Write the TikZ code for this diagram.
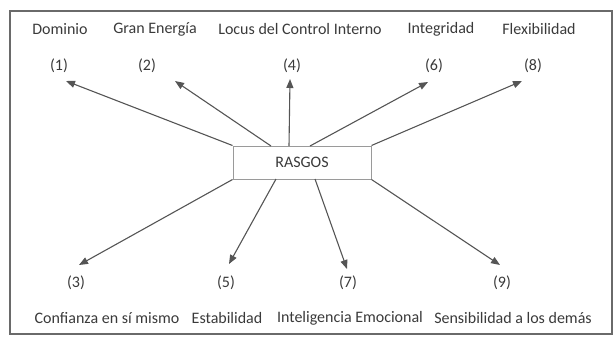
\documentclass[tikz,border=0pt]{standalone}
\usepackage{fontspec}
\setmainfont{Carlito}
\usetikzlibrary{arrows.meta}
\definecolor{txt}{HTML}{3A3A3A}
\definecolor{arr}{HTML}{555555}
\definecolor{boxc}{HTML}{9A9A9A}
\definecolor{frm}{HTML}{6A6A6A}
\begin{document}
\begin{tikzpicture}[x=1pt,y=-1pt,
  lbl/.style={text=txt,font=\fontsize{16}{19}\selectfont,inner sep=0pt,anchor=center},
  rasgos/.style={draw=boxc,line width=1pt,minimum width=138pt,minimum height=33pt,inner sep=0pt,text=txt,font=\fontsize{16}{19}\selectfont},
  arrowline/.style={draw=arr,line width=1.1pt,-{Triangle[length=9pt,width=7pt]}},
  frame/.style={draw=frm,line width=2pt}]
\useasboundingbox (0,0) rectangle (615,338);
\draw[frame] (10,11) rectangle (612,334);
% top labels
\node[lbl] (t1) at (60,29) {Dominio};
\node[lbl] (t2) at (155,29) {Gran Energía};
\node[lbl] (t4) at (300,29) {Locus del Control Interno};
\node[lbl] (t6) at (441,29) {Integridad};
\node[lbl] (t8) at (539,29) {Flexibilidad};
% top numbers
\node[lbl] (n1) at (59,66) {(1)};
\node[lbl] (n2) at (147,66) {(2)};
\node[lbl] (n4) at (292,66) {(4)};
\node[lbl] (n6) at (434,66) {(6)};
\node[lbl] (n8) at (533,66) {(8)};
% central box
\node[rasgos] (box) at (302,162.5) {RASGOS};
% bottom numbers
\node[lbl] (n3) at (76,283) {(3)};
\node[lbl] (n5) at (226,283) {(5)};
\node[lbl] (n7) at (348,283) {(7)};
\node[lbl] (n9) at (502,283) {(9)};
% bottom labels
\node[lbl] (b3) at (107,318) {Confianza en sí mismo};
\node[lbl] (b5) at (227,318) {Estabilidad};
\node[lbl] (b7) at (350,318) {Inteligencia Emocional};
\node[lbl] (b9) at (513,318) {Sensibilidad a los demás};
% arrow tips
\coordinate (p1) at (66,81);
\coordinate (p2) at (175,81);
\coordinate (p4) at (290,79);
\coordinate (p6) at (428,82);
\coordinate (p8) at (522,81);
\coordinate (p3) at (79,265);
\coordinate (p5) at (229,264);
\coordinate (p7) at (347,269);
\coordinate (p9) at (500,265);
% start points on box
\coordinate (s2) at (271,146);
\coordinate (s4) at (289,146);
\coordinate (s6) at (310,146);
\coordinate (s5) at (276,179);
\coordinate (s7) at (315,179);
\draw[arrowline] (box.north west) -- (p1);
\draw[arrowline] (s2) -- (p2);
\draw[arrowline] (s4) -- (p4);
\draw[arrowline] (s6) -- (p6);
\draw[arrowline] (box.north east) -- (p8);
\draw[arrowline] (box.south west) -- (p3);
\draw[arrowline] (s5) -- (p5);
\draw[arrowline] (s7) -- (p7);
\draw[arrowline] (box.south east) -- (p9);
\end{tikzpicture}
\end{document}
